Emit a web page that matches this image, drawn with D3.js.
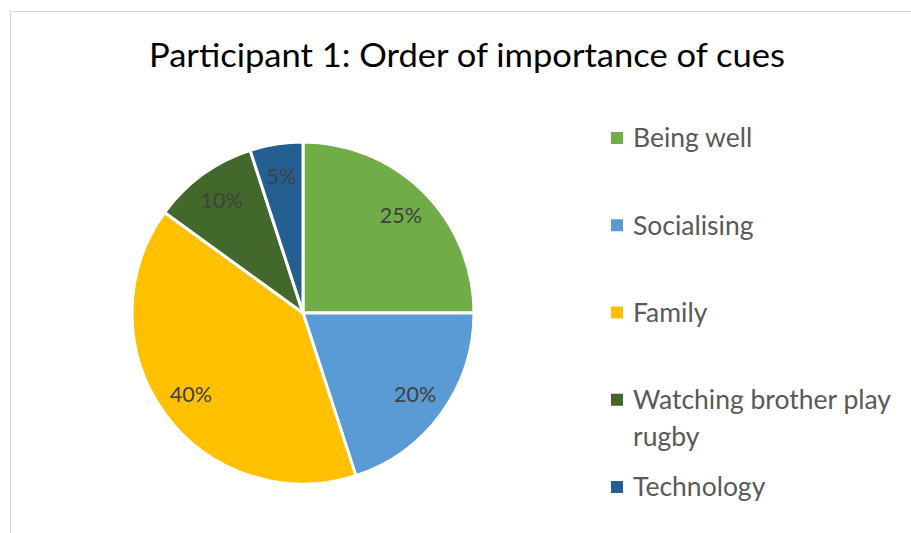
<!DOCTYPE html>
<html>
<head>
<meta charset="utf-8">
<script src="https://cdn.jsdelivr.net/npm/d3@7"></script>
<style>
  body { margin: 0; background: #fff; }
  svg { display: block; font-family: Lato, "Open Sans", sans-serif; }
</style>
</head>
<body>
<svg width="911" height="533"></svg>
<script>
const categories = ["Being well", "Socialising", "Family", "Watching brother play rugby", "Technology"];
const values = [25, 20, 40, 10, 5];
const colors = ["#70ad47", "#5b9bd5", "#ffc000", "#43682b", "#255e91"];
const title = "Participant 1: Order of importance of cues";

const width = 911, height = 533;
const cx = 303, cy = 313, radius = 171;

const svg = d3.select("svg");

// chart frame
svg.append("rect")
  .attr("x", 10.5).attr("y", 11.5)
  .attr("width", 960).attr("height", 600)
  .attr("fill", "#fff")
  .attr("stroke", "#d9d9d9");

svg.append("text")
  .attr("x", 467).attr("y", 67)
  .attr("text-anchor", "middle")
  .attr("font-size", 33)
  .attr("fill", "#000")
  .attr("textLength", 636)
  .attr("lengthAdjust", "spacingAndGlyphs")
  .text(title);

const color = d3.scaleOrdinal().domain(categories).range(colors);
const total = d3.sum(values);
const data = categories.map((c, i) => ({ name: c, value: values[i] }));

const pie = d3.pie().value(d => d.value).sort(null);
const arc = d3.arc().innerRadius(0).outerRadius(radius);
const labelArc = d3.arc().innerRadius(radius * 0.81).outerRadius(radius * 0.81);

const g = svg.append("g").attr("transform", `translate(${cx},${cy})`);

g.selectAll("path")
  .data(pie(data))
  .enter()
  .append("path")
  .attr("d", arc)
  .attr("fill", d => color(d.data.name))
  .attr("stroke", "#fff")
  .attr("stroke-width", 3)
  .attr("stroke-linejoin", "round");

g.selectAll("text.lbl")
  .data(pie(data))
  .enter()
  .append("text")
  .attr("class", "lbl")
  .attr("transform", d => `translate(${labelArc.centroid(d)})`)
  .attr("text-anchor", "middle")
  .attr("dy", "0.35em")
  .attr("font-size", 21.5)
  .attr("fill", "#404040")
  .text(d => Math.round(d.data.value / total * 100) + "%");

// legend
const ly = d3.scalePoint().domain(categories).range([138, 487]);
const legend = svg.append("g");
const item = legend.selectAll("g")
  .data(categories)
  .enter()
  .append("g")
  .attr("transform", d => `translate(611,${ly(d)})`);

item.append("rect")
  .attr("x", 0).attr("y", -6)
  .attr("width", 12).attr("height", 12)
  .attr("fill", d => color(d));

item.append("text")
  .attr("x", 22)
  .attr("dy", "0.35em")
  .attr("font-size", 26.5)
  .attr("fill", "#595959")
  .each(function(d) {
    // simple word wrap
    const t = d3.select(this);
    const words = d.split(" ");
    let line = [];
    let tspan = t.append("tspan").attr("x", 22);
    words.forEach(w => {
      line.push(w);
      tspan.text(line.join(" "));
      if (tspan.node().getComputedTextLength() > 275 && line.length > 1) {
        line.pop();
        tspan.text(line.join(" "));
        line = [w];
        tspan = t.append("tspan").attr("x", 22).attr("dy", 37).text(w);
      }
    });
  });
</script>
</body>
</html>
